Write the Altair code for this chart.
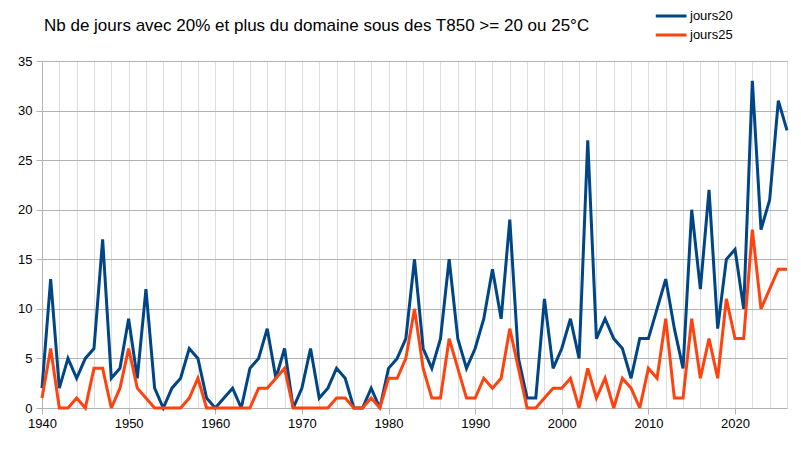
import altair as alt
import pandas as pd

years = list(range(1940, 2027))
jours20 = [
    2, 13, 2, 5, 3, 5, 6, 17, 3, 4,
    9, 3, 12, 2, 0, 2, 3, 6, 5, 1,
    0, 1, 2, 0, 4, 5, 8, 3, 6, 0,
    2, 6, 1, 2, 4, 3, 0, 0, 2, 0,
    4, 5, 7, 15, 6, 4, 7, 15, 7, 4,
    6, 9, 14, 9, 19, 5, 1, 1, 11, 4,
    6, 9, 5, 27, 7, 9, 7, 6, 3, 7,
    7, 10, 13, 8, 4, 20, 12, 22, 8, 15,
    16, 10, 33, 18, 21, 31, 28,
]
jours25 = [
    1, 6, 0, 0, 1, 0, 4, 4, 0, 2,
    6, 2, 1, 0, 0, 0, 0, 1, 3, 0,
    0, 0, 0, 0, 0, 2, 2, 3, 4, 0,
    0, 0, 0, 0, 1, 1, 0, 0, 1, 0,
    3, 3, 5, 10, 4, 1, 1, 7, 4, 1,
    1, 3, 2, 3, 8, 4, 0, 0, 1, 2,
    2, 3, 0, 4, 1, 3, 0, 3, 2, 0,
    4, 3, 9, 1, 1, 9, 3, 7, 3, 11,
    7, 7, 18, 10, 12, 14, 14,
]
series = ["jours20", "jours25"]
colors = ["#004586", "#ff420e"]

df = pd.concat([
    pd.DataFrame({"annee": years, "valeur": jours20, "serie": series[0]}),
    pd.DataFrame({"annee": years, "valeur": jours25, "serie": series[1]}),
])

FONT = "Liberation Sans"

chart = alt.Chart(df).mark_line(strokeWidth=3, strokeJoin="miter", strokeMiterLimit=3).encode(
    x=alt.X(
        "annee:Q",
        scale=alt.Scale(domain=[1940, 2026], nice=False, zero=False),
        axis=alt.Axis(
            title=None,
            values=list(range(1940, 2027, 2)),
            format="d",
            labelExpr="datum.value % 10 === 0 ? datum.label : ''",
            tickOpacity={"condition": {"test": "datum.value % 10 === 0", "value": 1}, "value": 0},
            grid=True,
            gridColor="#dddddd",
            gridWidth=1,
            domainColor="#b3b3b3",
            tickColor="#b3b3b3",
            tickSize=6,
            labelPadding=3,
            labelFont=FONT,
            labelFontSize=13,
            labelColor="#000000",
            labelFlush=False,
            labelOverlap=False,
        ),
    ),
    y=alt.Y(
        "valeur:Q",
        scale=alt.Scale(domain=[0, 35], nice=False),
        axis=alt.Axis(
            title=None,
            values=list(range(0, 36, 5)),
            grid=True,
            gridColor="#b3b3b3",
            gridWidth=1,
            domainColor="#b3b3b3",
            tickColor="#b3b3b3",
            tickSize=6,
            labelPadding=4,
            labelFont=FONT,
            labelFontSize=13,
            labelColor="#000000",
        ),
    ),
    color=alt.Color(
        "serie:N",
        scale=alt.Scale(domain=series, range=colors),
        legend=alt.Legend(
            title=None,
            orient="none",
            legendX=628,
            legendY=-54,
            symbolType="M-3.1,0H1",
            symbolSize=225,
            symbolStrokeWidth=3,
            labelOffset=2,
            labelFont=FONT,
            labelFontSize=13,
            labelColor="#000000",
            rowPadding=3,
            padding=0,
        ),
    ),
).properties(
    width=745,
    height=347,
    title=alt.TitleParams(
        "Nb de jours avec 20% et plus du domaine sous des T850 >= 20 ou 25°C",
        anchor="start",
        frame="group",
        font=FONT,
        fontSize=17,
        fontWeight="normal",
        color="#000000",
        offset=12,
        dx=2,
        dy=40,
    ),
    autosize=alt.AutoSizeParams(type="none"),
    padding={"left": 34, "top": 53, "right": 6, "bottom": 42},
).configure_view(stroke=None)

chart.save("out.html", embed_options={"renderer": "svg", "actions": False})
